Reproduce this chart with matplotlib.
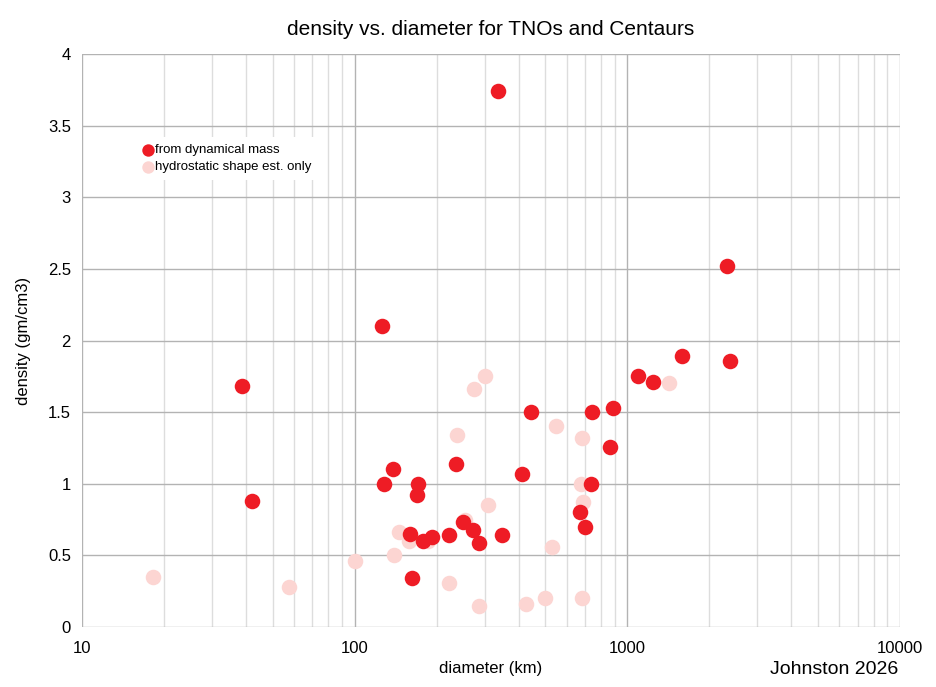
import matplotlib
matplotlib.use("Agg")
import matplotlib.pyplot as plt
from matplotlib.ticker import LogLocator, FixedLocator, FuncFormatter, NullFormatter

plt.rcParams['font.family'] = ['Liberation Sans', 'DejaVu Sans']

# bodies with density from dynamical mass
dyn_diam = [336, 2321, 2380, 1587, 1096, 1239, 740, 883, 863, 734, 670, 700,
            126, 38.6, 42.0, 442, 234.7, 137.8, 128.1, 170.7, 168.8, 412,
            249, 272, 286, 348, 222, 191.7, 177.7, 159.6, 161.9]
dyn_dens = [3.74, 2.52, 1.86, 1.89, 1.75, 1.71, 1.50, 1.53, 1.26, 1.00, 0.80, 0.70,
            2.10, 1.68, 0.88, 1.50, 1.14, 1.10, 1.00, 1.00, 0.92, 1.07,
            0.73, 0.68, 0.59, 0.64, 0.64, 0.63, 0.60, 0.65, 0.34]

# hydrostatic shape estimate only
hyd_diam = [1426, 547, 680, 675, 686, 528, 680, 300.6, 274, 238, 309, 254,
            145.8, 158.5, 186, 139.8, 100.2, 222, 286, 424, 499, 18.2, 57.4]
hyd_dens = [1.70, 1.40, 1.32, 1.00, 0.87, 0.56, 0.20, 1.75, 1.66, 1.34, 0.85, 0.75,
            0.66, 0.60, 0.60, 0.50, 0.46, 0.31, 0.15, 0.16, 0.20, 0.35, 0.28]

fig = plt.figure(figsize=(9.36, 6.87), dpi=100)
ax = fig.add_axes([0.0876, 0.0873, 0.8739, 0.8341])

ax.scatter(hyd_diam, hyd_dens, s=125, color='#fcd5d2', linewidths=0,
           label='hydrostatic shape est. only', zorder=3)
ax.scatter(dyn_diam, dyn_dens, s=125, color='#ee1c25', linewidths=0,
           label='from dynamical mass', zorder=4)

ax.set_xscale('log')
ax.set_xlim(10, 10000)
ax.set_ylim(0, 4)
ax.yaxis.set_major_locator(FixedLocator([0, 0.5, 1, 1.5, 2, 2.5, 3, 3.5, 4]))
ax.yaxis.set_major_formatter(FuncFormatter(lambda v, p: f"{v:g}"))
ax.xaxis.set_major_locator(LogLocator(base=10))
ax.xaxis.set_major_formatter(FuncFormatter(lambda v, p: f"{v:.0f}"))
ax.xaxis.set_minor_locator(LogLocator(base=10, subs=range(2, 10)))
ax.xaxis.set_minor_formatter(NullFormatter())

ax.grid(True, which='major', color='#b3b3b3', linewidth=1)
ax.grid(True, which='minor', axis='x', color='#dddddd', linewidth=1)
ax.set_axisbelow(True)
for sp in ax.spines.values():
    sp.set_visible(False)
ax.tick_params(which='both', length=0, labelsize=12, colors='black', pad=8)
ax.tick_params(axis='x', pad=10)

ax.set_title('density vs. diameter for TNOs and Centaurs', fontsize=15, pad=14)
ax.set_xlabel('diameter (km)', fontsize=12, labelpad=4)
ax.set_ylabel('density (gm/cm3)', fontsize=12, labelpad=12)

h, l = ax.get_legend_handles_labels()
leg = ax.legend(h[::-1], l[::-1], loc='upper left', bbox_to_anchor=(0.056, 0.866),
                fontsize=9.5, frameon=True, fancybox=False, edgecolor='none',
                facecolor='white', framealpha=1, handletextpad=0.05,
                markerscale=0.8, borderpad=0.5, labelspacing=0.35, handlelength=1)

fig.text(0.960, 0.013, 'Johnston 2026', ha='right', va='bottom', fontsize=14)

fig.savefig('out.png', dpi=100)
